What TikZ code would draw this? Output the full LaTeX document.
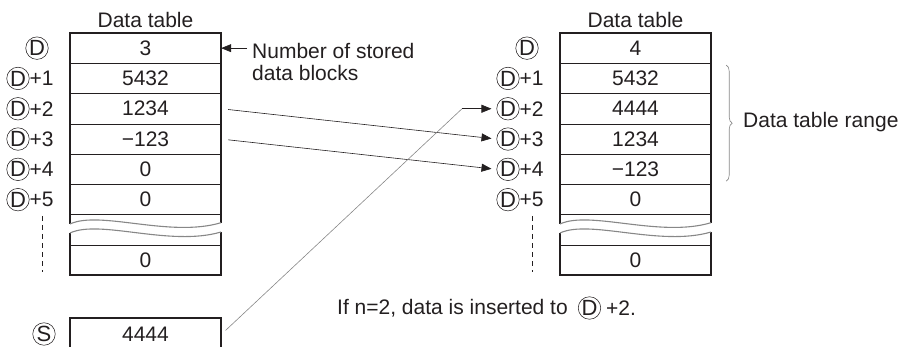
\documentclass[tikz,border=0pt]{standalone}
\usepackage{fontspec}
\setmainfont{Liberation Sans}
\definecolor{ink}{RGB}{35,31,32}
\definecolor{wavegray}{RGB}{135,135,135}
\usetikzlibrary{arrows.meta, positioning, decorations.pathreplacing}
\tikzset{
  lbl/.style={font=\fontsize{21}{21.5}\selectfont, text=ink, inner sep=0pt},
  cell/.style={lbl, minimum width=151pt, minimum height=30.3pt},
  dcirc/.style={lbl, font=\fontsize{22}{22}\selectfont, draw=ink, line width=0.55pt, circle, minimum size=22.5pt},
  rowline/.style={draw=ink, line width=0.6pt},
  frame/.style={draw=ink, line width=1.4pt},
  wave/.style={draw=wavegray, line width=1.1pt},
  link/.style={draw=ink, line width=0.6pt, -{Triangle[length=10pt,width=8pt]}}
}
\begin{document}
\begin{tikzpicture}[x=1pt, y=-1pt]
\useasboundingbox (0,0) rectangle (901,347);

% Both tables: frame, row lines, break waves, row labels
\foreach \s/\dx in {l/0, r/490} {
  \begin{scope}[xshift=\dx pt]
    \node[lbl] (\s title) at (145.5,20) {Data table};
    \foreach \k in {1,...,6}
      \draw[rowline] (70,{33+30.3*\k}) -- (221,{33+30.3*\k});
    \draw[rowline] (70,244.8) -- (221,244.8);
    \draw[frame] (70,224) -- (70,33) -- (221,33) -- (221,222.7);
    \draw[frame] (70,233) -- (70,275.1) -- (221,275.1) -- (221,232);
    % broken part of the table
    \draw[wave] (70,224) .. controls (100,210) and (170,238) .. (221,222.7);
    \draw[wave] (70,233) .. controls (100,219) and (170,247) .. (221,232);
    % row labels
    \node[dcirc] (\s d0) at (37,48.15) {D};
    \foreach \k in {1,...,5} {
      \node[dcirc] (\s d\k) at (18,{48.15+30.3*\k}) {D};
      \node[lbl, anchor=west] at (\s d\k.east) {+\k};
    }
    \draw[ink, line width=0.7pt, dash pattern=on 5pt off 4pt] (42,216) -- (42,272);
  \end{scope}
}

% Left table values
\foreach \val [count=\i from 0] in {3,5432,1234,−123,0,0}
  \node[cell] (lcell\i) at (145.5,{48.15+30.3*\i}) {\val};
\node[cell] (lcell6) at (145.5,259.95) {0};

% Right table values
\foreach \val [count=\i from 0] in {4,5432,4444,1234,−123,0}
  \node[cell] (rcell\i) at (635.5,{48.15+30.3*\i}) {\val};
\node[cell] (rcell6) at (635.5,259.95) {0};

% Number of stored data blocks
\node[lbl, anchor=north west, align=left] (nstored) at (252,43.5) {Number of stored\\data blocks};
\coordinate (ntail) at (247,48.15);
\draw[link] (ntail) -- (lcell0.east);

% Data table range
\draw[decorate, decoration={brace, amplitude=6pt}, draw=wavegray, line width=0.6pt]
  ([xshift=15pt, yshift=-2pt]rcell1.north east) -- ([xshift=15pt, yshift=3.5pt]rcell4.south east);
\node[lbl, anchor=west] (rangelbl) at (743,122) {Data table range};

% Shifted data
\draw[link, shorten <=7pt, shorten >=5pt] (lcell2.east) -- (rd3.west);
\draw[link, shorten <=7pt, shorten >=5pt] (lcell3.east) -- (rd4.west);

% Source device
\node[dcirc] (sd) at (44,334) {S};
\draw[frame] (70,347) -- (70,318) -- (221,318) -- (221,347);
\node[cell] (sval) at (145.5,334.5) {4444};
\coordinate (bend) at (462,108.75);
\draw[wavegray, line width=0.6pt, shorten <=6pt] (sval.east) -- (bend);
\draw[link, shorten >=5pt] (bend) -- (rd2.west);

% Note
\node[lbl, anchor=west] (note) at (337,308) {If n=2, data is inserted to};
\node[dcirc, right=10pt of note] (noted) {D};
\node[lbl, right=5pt of noted] (noteplus) {+2.};
\end{tikzpicture}
\end{document}
